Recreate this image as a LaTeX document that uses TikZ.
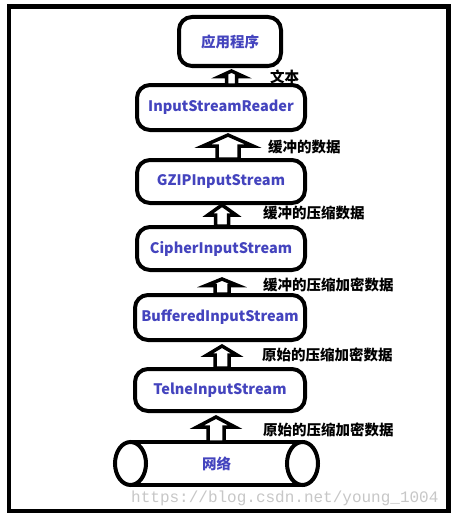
\documentclass[tikz,border=0pt]{standalone}
\usepackage{fontspec}
\newfontfamily\cjk{Noto Sans CJK SC}
\newfontfamily\wmfont{Liberation Mono}
\definecolor{boxblue}{RGB}{68,68,190}
\tikzset{
  stepbox/.style={draw, line width=4pt, rounded corners=13pt, fill=white, text=boxblue,
    font=\cjk\bfseries\fontsize{14.5}{16}\selectfont, inner sep=0pt},
  lbl/.style={anchor=west, font=\cjk\bfseries\fontsize{14.5}{16}\selectfont, inner sep=0pt},
  house/.style={draw, line width=3.5pt, fill=white, line join=miter},
  tube/.style={draw, line width=4pt, fill=white},
}
% centre x, tip y, head base y, bottom y, half head width, half shaft width
\newcommand\houseArrow[6]{%
  \draw[house] (#1,#2) -- ({#1+#5},#3) -- ({#1+#6},#3) -- ({#1+#6},#4)
    -- ({#1-#6},#4) -- ({#1-#6},#3) -- ({#1-#5},#3) -- cycle;}
\begin{document}
\begin{tikzpicture}[x=1pt,y=-1pt]
\useasboundingbox (0,0) rectangle (462,519);
\fill[white] (0,0) rectangle (462,519);

% watermark
\node[anchor=west, inner sep=0pt, text=black!22, font=\wmfont\fontsize{16}{18}\selectfont] (wm) at (131,498) {https://blog.csdn.net/young\_1004};

% frame
\draw[line width=4.5pt] (9,6.5) rectangle (448.5,511);

% boxes
\node[stepbox, minimum width=102pt, minimum height=49pt] (app) at (230,41.5) {应用程序};
\node[stepbox, minimum width=168pt, minimum height=45pt] (isr) at (221,107.5) {InputStreamReader};
\node[stepbox, minimum width=168pt, minimum height=43pt] (gzip) at (221,181.5) {GZIPInputStream};
\node[stepbox, minimum width=168pt, minimum height=43pt] (cipher) at (221,248.5) {CipherInputStream};
\node[stepbox, minimum width=170pt, minimum height=45pt] (buf) at (220,317.5) {BufferedInputStream};
\node[stepbox, minimum width=170pt, minimum height=42pt] (telne) at (220,390) {TelneInputStream};

% network tube
\draw[tube] (130.5,442) -- (302.5,442) -- (302.5,485) -- (130.5,485) -- cycle;
\draw[line width=4pt, fill=white] (130.5,463.5) ellipse [x radius=15.5, y radius=21.5];
\draw[line width=4pt, fill=white] (302.5,463.5) ellipse [x radius=15.5, y radius=21.5];
\draw[line width=4pt] (130.5,442) -- (302.5,442) (130.5,485) -- (302.5,485);
\node[text=boxblue, font=\cjk\bfseries\fontsize{14.5}{16}\selectfont, inner sep=0pt] (net) at (216.5,463.5) {网络};

% block arrows
\houseArrow{231.5}{71}{76.5}{85}{12}{5}
\houseArrow{228}{135}{146}{159}{25}{11}
\houseArrow{222}{205}{215}{226}{14}{6.5}
\houseArrow{222}{279}{285.5}{294}{16}{7}
\houseArrow{222}{346}{355}{368}{15}{7}
\houseArrow{216}{417}{427}{442}{19}{8}

% labels
\node[lbl] (l1) at (270,77) {文本};
\node[lbl] (l2) at (268,147) {缓冲的数据};
\node[lbl] (l3) at (263,213) {缓冲的压缩数据};
\node[lbl] (l4) at (263,285) {缓冲的压缩加密数据};
\node[lbl] (l5) at (262,355) {原始的压缩加密数据};
\node[lbl] (l6) at (263,430) {原始的压缩加密数据};
\end{tikzpicture}
\end{document}
